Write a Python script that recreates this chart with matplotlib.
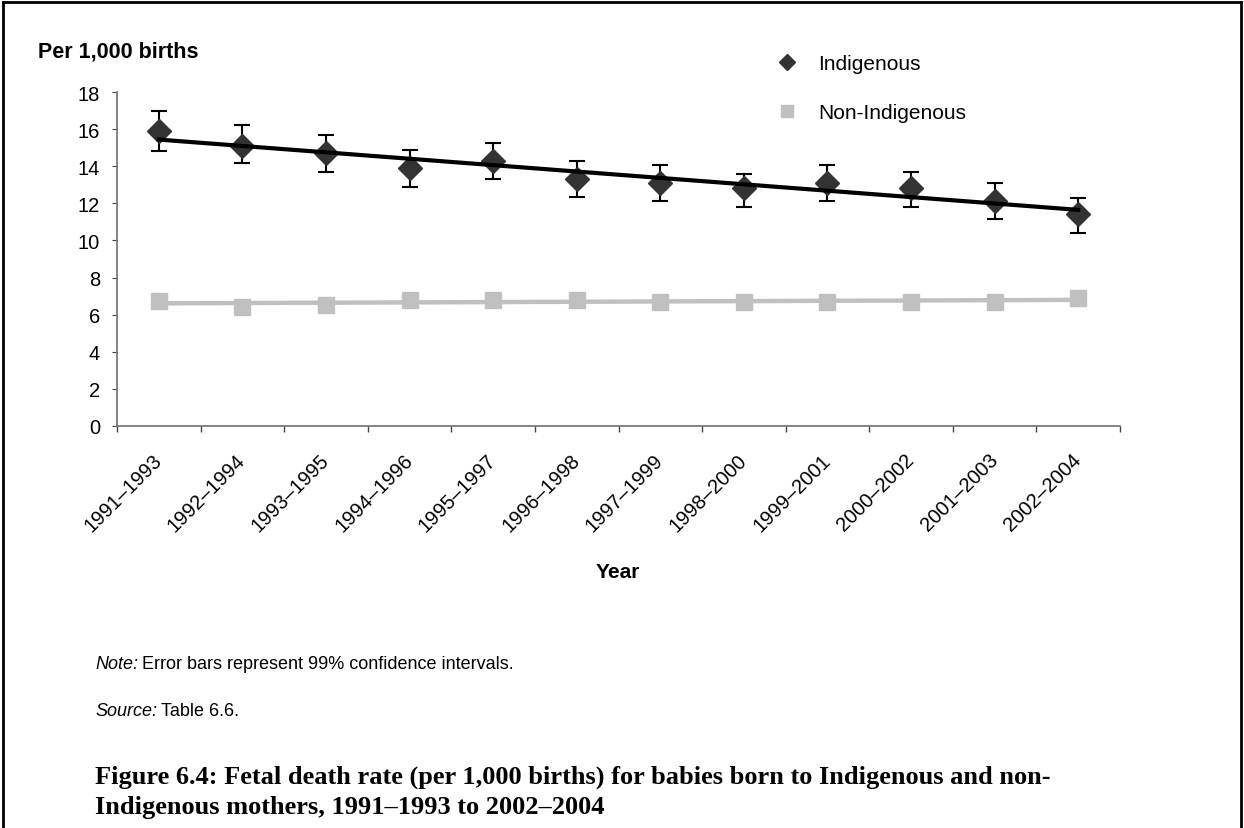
import numpy as np
import matplotlib
matplotlib.use('Agg')
import matplotlib.pyplot as plt
from matplotlib.lines import Line2D
from matplotlib.transforms import ScaledTranslation

# --- data ---
periods = ['1991–1993', '1992–1994', '1993–1995', '1994–1996', '1995–1997', '1996–1998',
           '1997–1999', '1998–2000', '1999–2001', '2000–2002', '2001–2003', '2002–2004']
indig = [15.9, 15.1, 14.7, 13.9, 14.3, 13.3, 13.1, 12.8, 13.1, 12.8, 12.1, 11.4]
indig_lo = [14.8, 14.2, 13.7, 12.9, 13.3, 12.35, 12.1, 11.8, 12.1, 11.8, 11.15, 10.4]
indig_hi = [17.0, 16.2, 15.7, 14.9, 15.25, 14.3, 14.06, 13.6, 14.06, 13.7, 13.1, 12.3]
nonindig = [6.75, 6.4, 6.5, 6.8, 6.8, 6.8, 6.7, 6.7, 6.7, 6.7, 6.7, 6.9]
yticks = [0, 2, 4, 6, 8, 10, 12, 14, 16, 18]

W, H = 1244, 829
plt.rcParams['font.family'] = ['Liberation Sans', 'DejaVu Sans']
SERIF = ['Liberation Serif', 'DejaVu Serif']

fig = plt.figure(figsize=(W / 100, H / 100), dpi=100)
ax = fig.add_axes([117 / W, 1 - 427 / H, 1003 / W, 334 / H])

x = np.arange(len(periods))
ind_err = [np.array(indig) - np.array(indig_lo), np.array(indig_hi) - np.array(indig)]

# linear trend lines (as in the original spreadsheet chart)
k1, b1 = np.polyfit(x, indig, 1)
k2, b2 = np.polyfit(x, nonindig, 1)
ax.plot(x, k2 * x + b2, color='#c0c0c0', lw=3.2, zorder=2)
ax.plot(x, k1 * x + b1, color='black', lw=3, zorder=4)

ax.plot(x, nonindig, ls='none', marker='s', ms=11.5, color='#c0c0c0', zorder=3)
ax.errorbar(x, indig, yerr=ind_err, fmt='D', ms=12, color='#333333',
            ecolor='black', elinewidth=1.5, capsize=5.5, capthick=1.5, zorder=3)

ax.set_xlim(-0.5, len(periods) - 0.5)
ax.set_ylim(0, 18)
ax.set_yticks(yticks)
ax.set_xticks(x)
ax.set_xticklabels(periods, rotation=45, ha='right', va='center',
                   rotation_mode='anchor', fontsize=14.5)
shift = ScaledTranslation(-16 / 100, 0, fig.dpi_scale_trans)
for lab in ax.get_xticklabels():
    lab.set_transform(lab.get_transform() + shift)
ax.set_xticks(np.arange(-0.5, len(periods), 1), minor=True)
ax.tick_params(axis='x', which='major', length=0, pad=22)
ax.tick_params(axis='x', which='minor', length=4.5, direction='out', color='#444444', width=1)
ax.tick_params(axis='y', length=3.6, direction='out', labelsize=14.5, pad=8.5,
               color='#444444')
for s in ['top', 'right']:
    ax.spines[s].set_visible(False)
for s in ['left', 'bottom']:
    ax.spines[s].set_color('#7a7a7a')
    ax.spines[s].set_linewidth(1.3)

fig.text(618 / W, 1 - 573 / H, 'Year', fontsize=15, fontweight='bold', ha='center', va='center')
fig.text(38 / W, 1 - 52 / H, 'Per 1,000 births', fontsize=15.5, fontweight='bold', va='center')

handles = [Line2D([], [], ls='none', marker='D', ms=8, color='#333333'),
           Line2D([], [], ls='none', marker='s', ms=8.5, color='#c0c0c0')]
fig.legend(handles, ['Indigenous', 'Non-Indigenous'], loc='center left',
           bbox_to_anchor=(774 / W, 1 - 89 / H), frameon=False, fontsize=15,
           labelspacing=1.45, handletextpad=0.9, handlelength=1.2, borderpad=0,
           borderaxespad=0)

# notes: italic lead word, then plain text placed after its measured width
renderer = fig.canvas.get_renderer()
for lead, rest, ypix in [('Note:', 'Error bars represent 99% confidence intervals.', 665),
                         ('Source:', 'Table 6.6.', 712)]:
    t = fig.text(95 / W, 1 - ypix / H, lead, fontsize=13, style='italic', va='center')
    x1 = t.get_window_extent(renderer).x1
    fig.text((x1 + 4) / W, 1 - ypix / H, rest, fontsize=13, va='center')

fig.text(95 / W, 1 - 777 / H,
         'Figure 6.4: Fetal death rate (per 1,000 births) for babies born to Indigenous and non-',
         fontsize=19, fontweight='bold', family=SERIF, va='center')
fig.text(95 / W, 1 - 808 / H,
         'Indigenous mothers, 1991–1993 to 2002–2004',
         fontsize=19, fontweight='bold', family=SERIF, va='center')

# frame round the figure
for xs, ys in [([3, 3], [H, 3]), ([3, 1241], [3, 3]), ([1241, 1241], [3, H])]:
    fig.add_artist(Line2D([v / W for v in xs], [1 - v / H for v in ys],
                          color='black', lw=2))

fig.savefig('out.png', dpi=100)
